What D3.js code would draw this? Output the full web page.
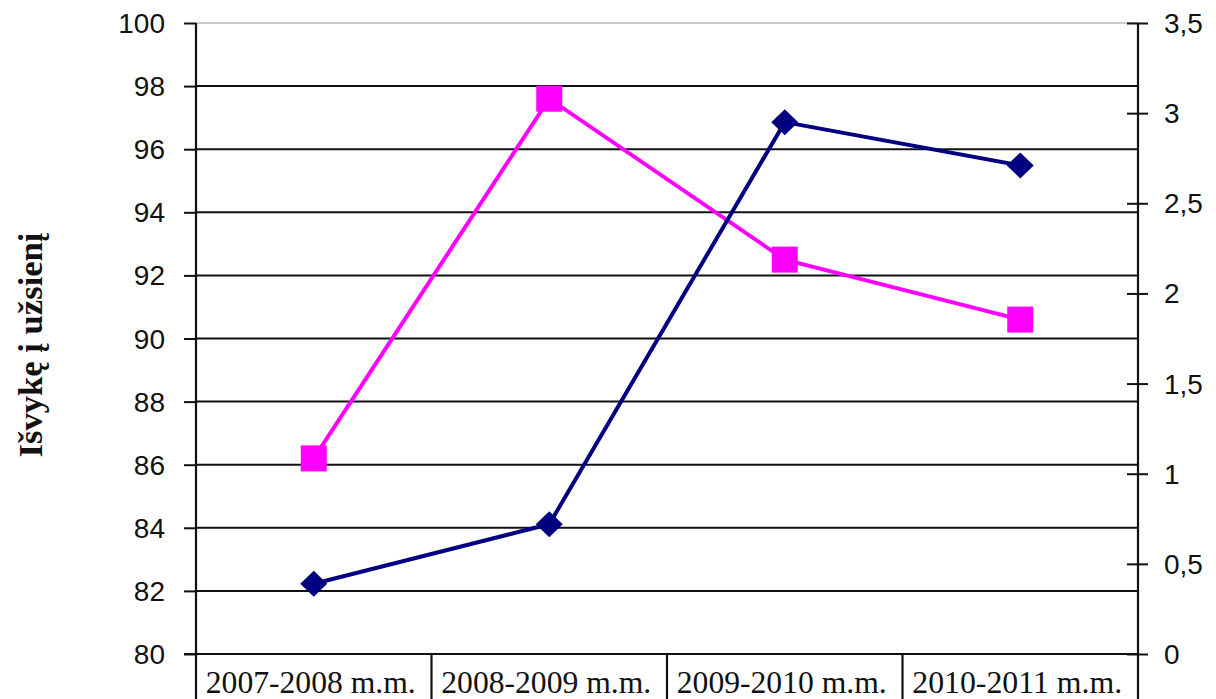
<!DOCTYPE html>
<html><head><meta charset="utf-8">
<script src="https://cdn.jsdelivr.net/npm/d3@7"></script>
<style>body{margin:0;background:#fff}svg{display:block}</style>
</head><body>
<svg id="c" width="1216" height="699"></svg>
<script>
const categories = ["2007-2008 m.m.", "2008-2009 m.m.", "2009-2010 m.m.", "2010-2011 m.m."];
const pinkValues = [86.2, 97.6, 92.5, 90.6];      // left axis
const navyValues = [0.39, 0.72, 2.95, 2.71];      // right axis
const leftTicks = [80, 82, 84, 86, 88, 90, 92, 94, 96, 98, 100];
const rightTicks = [0, 0.5, 1, 1.5, 2, 2.5, 3, 3.5];
const yTitle = "Išvykę į užsienį";

const svg = d3.select("#c");
const L = 196, R = 1138, T = 23, B = 654;
const x = d3.scaleBand().domain(categories).range([L, R]);
const yL = d3.scaleLinear().domain([80, 100]).range([B, T]);
const yR = d3.scaleLinear().domain([0, 3.5]).range([B, T]);

// gridlines
svg.append("g").selectAll("line").data(leftTicks).join("line")
  .attr("x1", L).attr("x2", R)
  .attr("y1", d => yL(d)).attr("y2", d => yL(d))
  .attr("stroke", d => d === 100 ? "#999" : "#111")
  .attr("stroke-width", d => d === 100 ? 1.2 : 2);

// left axis
const gL = svg.append("g").attr("transform", `translate(${L},0)`)
  .call(d3.axisLeft(yL).tickValues(leftTicks).tickSize(12).tickPadding(19).tickFormat(d3.format("d")));
gL.select(".domain").remove();
gL.selectAll(".tick line").attr("stroke", "#111").attr("stroke-width", 2);
gL.selectAll(".tick text").attr("font-family", "Liberation Sans, Arial, sans-serif")
  .attr("font-size", 28).attr("fill", "#111").attr("dy", "0.34em");

// right axis
const gR = svg.append("g").attr("transform", `translate(${R},0)`)
  .call(d3.axisRight(yR).tickValues(rightTicks).tickSize(10).tickPadding(16)
    .tickFormat(d => String(d).replace(".", ",")));
gR.select(".domain").remove();
gR.selectAll(".tick line").attr("x1", -11).attr("stroke", "#111").attr("stroke-width", 2);
gR.selectAll(".tick text").attr("font-family", "Liberation Sans, Arial, sans-serif")
  .attr("font-size", 28).attr("fill", "#111").attr("dy", "0.34em");

// axis lines (extended down through category boxes)
[L, R].forEach(v => svg.append("line").attr("x1", v).attr("x2", v).attr("y1", T).attr("y2", 699)
  .attr("stroke", "#111").attr("stroke-width", 2.2));
svg.append("line").attr("x1", L - 12).attr("x2", R).attr("y1", B).attr("y2", B)
  .attr("stroke", "#111").attr("stroke-width", 2.2);

// category dividers and labels
svg.append("g").selectAll("line").data(categories.slice(1)).join("line")
  .attr("x1", d => x(d)).attr("x2", d => x(d)).attr("y1", B).attr("y2", 699)
  .attr("stroke", "#111").attr("stroke-width", 2.2);
svg.append("g").selectAll("text").data(categories).join("text")
  .attr("x", d => x(d) + x.bandwidth() / 2 - 3).attr("y", 693)
  .attr("text-anchor", "middle")
  .attr("font-family", "Liberation Serif, Times New Roman, serif")
  .attr("font-size", 31).attr("fill", "#111")
  .attr("textLength", 210).attr("lengthAdjust", "spacingAndGlyphs")
  .text(d => d);

// y title
svg.append("text").attr("transform", "translate(42,345) rotate(-90)")
  .attr("text-anchor", "middle")
  .attr("font-family", "Liberation Serif, Times New Roman, serif")
  .attr("font-weight", "bold").attr("font-size", 33).attr("fill", "#111")
  .attr("textLength", 225).attr("lengthAdjust", "spacingAndGlyphs")
  .text(yTitle);

const cx = d => x(d) + x.bandwidth() / 2;

// pink series
const pink = categories.map((c, i) => [cx(c), yL(pinkValues[i])]);
svg.append("path").attr("d", d3.line()(pink)).attr("fill", "none")
  .attr("stroke", "#FF00FF").attr("stroke-width", 4);
svg.append("g").selectAll("rect").data(pink).join("rect")
  .attr("x", d => d[0] - 13).attr("y", d => d[1] - 13)
  .attr("width", 26).attr("height", 26).attr("fill", "#FF00FF");

// navy series
const navy = categories.map((c, i) => [cx(c), yR(navyValues[i])]);
svg.append("path").attr("d", d3.line()(navy)).attr("fill", "none")
  .attr("stroke", "#000080").attr("stroke-width", 4);
svg.append("g").selectAll("path.dm").data(navy).join("path")
  .attr("d", d => `M${d[0]},${d[1] - 13}L${d[0] + 13.5},${d[1]}L${d[0]},${d[1] + 13}L${d[0] - 13.5},${d[1]}Z`)
  .attr("fill", "#000080");
</script>
</body></html>
